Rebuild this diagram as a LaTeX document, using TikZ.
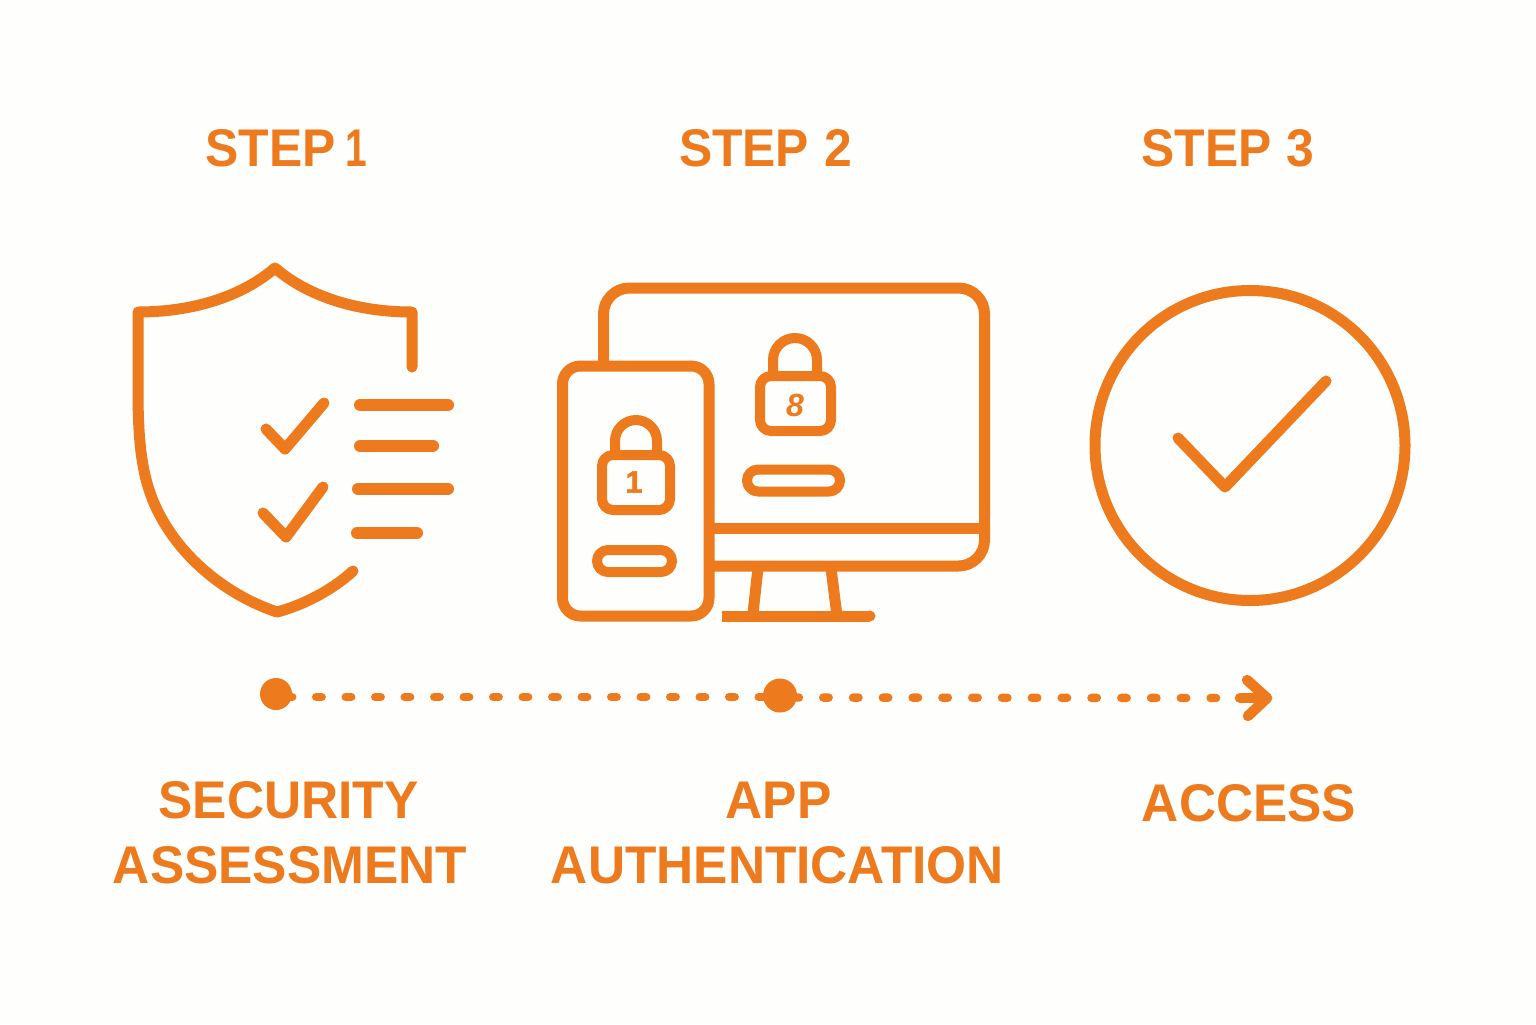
\documentclass[tikz,border=0pt]{standalone}
\usepackage{fontspec}
\setmainfont{Liberation Sans}[FakeStretch=0.97]
\newfontfamily\stepfont{Liberation Sans}[FakeStretch=0.94]
\newfontfamily\digitfont{Liberation Sans}[BoldFeatures={FakeBold=1.5}]
\definecolor{org}{HTML}{EE7A1E}
\definecolor{bgc}{HTML}{FEFEFC}
\tikzset{
  icon/.style={draw=org,line width=5.5pt,line join=round,line cap=round},
  thin icon/.style={icon,line width=5pt},
  label/.style={text=org,font=\fontsize{26.5}{30}\selectfont\bfseries,inner sep=0pt,anchor=center},
  steplabel/.style={label,font=\fontsize{26.5}{30}\stepfont\selectfont\bfseries},
  digit/.style={text=org,font=\fontsize{15.5}{18}\digitfont\selectfont\bfseries,inner sep=0pt,anchor=center},
  dot/.style={circle,fill=org,inner sep=0pt},
  dots/.style={draw=org,line width=4.2pt,line cap=round},
}
\begin{document}
\begin{tikzpicture}[x=0.5pt,y=-0.5pt]
\path[fill=bgc] (0,0) rectangle (1536,1024);
\useasboundingbox (0,0) rectangle (1536,1024);
% labels
\node[steplabel] (s1) at (286.5,148) {STEP\hspace{5pt}\scalebox{0.78}[1]{1}};
\node[steplabel] (s2) at (765.5,148) {STEP\hspace{7.5pt}2};
\node[steplabel] (s3) at (1228,148) {STEP\hspace{7.5pt}3};
\node[label] (l1a) at (288.5,800) {SECURITY};
\node[label] (l1b) at (290,865) {ASSESSMENT};
\node[label] (l2a) at (778.5,800) {APP};
\node[label] (l2b) at (777.5,865) {AUTHENTICATION};
\node[label] (l3) at (1249,803) {ACCESS};
% shield
\draw[icon] (412,367) -- (412,312) .. controls (360,312) and (310,298) .. (275,268)
  .. controls (240,298) and (190,312) .. (138,312) -- (138,390)
  .. controls (138,460) and (145,495) .. (170,532)
  .. controls (195,569) and (235,598) .. (277,612)
  .. controls (300,606) and (330,592) .. (353,571);
\draw[icon] (266,429) -- (285,449) -- (324,403);
\draw[icon] (263,513) -- (286,537) -- (323,487);
\draw[icon,line width=6pt] (360,405) -- (448,405);
\draw[icon,line width=6pt] (360,446) -- (433,446);
\draw[icon,line width=6pt] (358,489) -- (448,489);
\draw[icon,line width=6pt] (357,533) -- (417,533);
% monitor
\draw[icon,line cap=butt] (603.5,366) -- (603.5,314) arc[start angle=180,end angle=270,radius=26] -- (958.5,288)
  arc[start angle=-90,end angle=0,radius=26] -- (984.5,540)
  arc[start angle=0,end angle=90,radius=26] -- (709,566);
\draw[icon,line cap=butt] (709,528) -- (984.5,528);
\draw[icon,line cap=butt] (758,568) -- (752.7,616);
\draw[icon,line cap=butt] (831,568) -- (837,616);
\draw[icon,line cap=butt] (722,616) -- (870,616);
\fill[org] (870,616) circle[radius=5.5];
% phone
\draw[icon] (562.5,384) arc[start angle=180,end angle=270,radius=18] -- (691,366)
  arc[start angle=-90,end angle=0,radius=18] -- (709,598)
  arc[start angle=0,end angle=90,radius=18] -- (580.5,616)
  arc[start angle=90,end angle=180,radius=18] -- cycle;
% lock 1
\draw[thin icon] (615,455) -- (615,441) arc[start angle=180,end angle=360,radius=21] -- (657,455);
\draw[thin icon,rounded corners=5.5pt] (602,455) rectangle (670,510);
\node[digit] (n1) at (634,482) {1};
\draw[thin icon,rounded corners=5.5pt] (597,550) rectangle (672,572);
% lock 2
\draw[thin icon] (773,376) -- (773,360) arc[start angle=180,end angle=360,radius=22] -- (817,376);
\draw[thin icon,rounded corners=5.5pt] (760,376) rectangle (831,431);
\node[digit,font=\fontsize{16}{18}\digitfont\selectfont\bfseries\itshape] (n2) at (795,405) {8};
\draw[thin icon,rounded corners=5.5pt] (747,469.5) rectangle (840,491.5);
% check circle
\draw[icon] (1250,445.5) circle[radius=155];
\draw[icon] (1178,438) -- (1225,487) -- (1326,381);
% timeline
\node[dot,minimum width=16pt] (a) at (276,694) {};
\node[dot,minimum width=17pt] (b) at (780,695.5) {};
\coordinate (a0) at (276,697);
\coordinate (b0) at (780,697);
\coordinate (b1) at (780,697.5);
\coordinate (c) at (1222,698);
\coordinate (d) at (1240,698);
\coordinate (e) at (1267,698);
\coordinate (f) at (1247,680);
\coordinate (g) at (1248,716);
\draw[dots,dash pattern=on 2.75pt off 12pt,dash phase=9.4pt] (a0) -- (b0);
\draw[dots,dash pattern=on 2.75pt off 12.15pt,dash phase=8.2pt] (b1) -- (c);
\draw[icon,line width=5.2pt] (d) -- (e);
\draw[icon,line width=5.2pt] (f) -- (e) -- (g);
\end{tikzpicture}
\end{document}
